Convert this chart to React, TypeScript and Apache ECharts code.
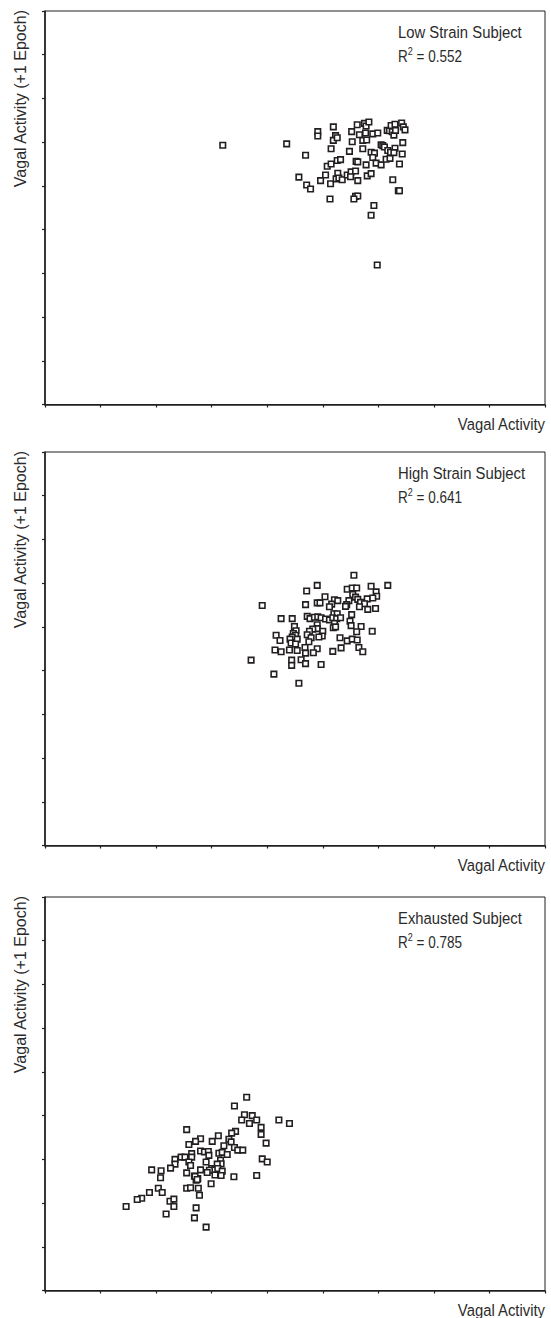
import React, { useEffect, useRef } from "react";
import * as echarts from "echarts";

const panelTitles = ["Low Strain Subject", "High Strain Subject", "Exhausted Subject"];
const rSquared = ["0.552", "0.641", "0.785"];
const xAxisTitle = "Vagal Activity";
const yAxisTitle = "Vagal Activity (+1 Epoch)";
const axisTicks = [0, 1, 2, 3, 4, 5, 6, 7, 8, 9];

const lowStrain: number[][] = [
  [4.35, 5.96], [4.69, 5.7], [4.57, 5.2], [4.71, 5.02], [4.78, 4.93], [4.91, 6.24], [4.91, 6.14],
  [5.19, 6.35], [5.23, 6.15], [5.19, 6.04], [5.26, 6.1], [5.15, 5.85], [5.05, 5.25], [5.08, 5.45],
  [5.15, 5.5], [4.96, 5.12], [5.14, 5.05], [5.27, 5.29], [5.26, 5.58], [5.32, 5.6], [5.24, 5.16],
  [5.29, 5.18], [5.35, 5.14], [5.44, 5.25], [5.51, 5.32], [5.59, 5.34], [5.5, 5.21], [5.63, 5.12],
  [5.13, 4.7], [5.52, 6.24], [5.62, 6.4], [5.53, 6.01], [5.48, 5.79], [5.6, 5.56], [5.63, 5.55],
  [5.75, 6.43], [5.78, 6.37], [5.83, 6.46], [5.66, 6.17], [5.77, 6.21], [5.72, 6.04], [5.79, 6.05],
  [5.72, 5.85], [5.78, 5.48], [5.8, 5.23], [5.87, 5.28], [5.59, 4.76], [5.63, 4.77], [5.56, 4.7],
  [5.92, 4.55], [5.9, 6.19], [5.99, 6.21], [5.87, 5.77], [5.93, 5.75], [5.9, 5.65], [5.96, 5.52],
  [6.05, 5.48], [6.05, 5.94], [6.08, 5.92], [6.11, 5.89], [6.14, 5.61], [6.17, 5.81], [6.21, 5.63],
  [6.22, 5.77], [6.3, 5.86], [6.16, 6.27], [6.2, 6.26], [6.23, 6.38], [6.3, 6.41], [6.25, 6.24],
  [6.28, 6.16], [6.31, 6.27], [6.42, 6.44], [6.45, 6.35], [6.48, 6.28], [6.44, 5.99], [6.43, 5.73],
  [6.38, 5.5], [6.26, 5.14], [6.36, 4.89], [6.38, 4.89], [6.28, 5.76], [3.2, 5.93], [5.98, 3.19],
  [5.87, 4.33],
];

const highStrain: number[][] = [
  [5.56, 6.18], [4.9, 5.95], [4.71, 5.82], [6.17, 5.95], [5.44, 5.86], [5.53, 5.89], [5.61, 5.89],
  [5.87, 5.93], [5.96, 5.8], [5.97, 5.7], [5.54, 5.74], [5.59, 5.68], [5.63, 5.63], [5.8, 5.64],
  [5.9, 5.66], [5.47, 5.6], [5.43, 5.51], [5.41, 5.47], [5.68, 5.56], [5.75, 5.53], [5.66, 5.46],
  [5.81, 5.4], [5.95, 5.42], [5.04, 5.69], [5.21, 5.62], [5.27, 5.6], [4.9, 5.55], [4.95, 5.55],
  [4.69, 5.51], [5.16, 5.52], [5.12, 5.46], [3.91, 5.49], [4.25, 5.19], [4.45, 5.19], [4.72, 5.24],
  [4.77, 5.19], [4.85, 5.22], [4.91, 5.23], [4.97, 5.21], [5.05, 5.18], [5.12, 5.16], [5.2, 5.3],
  [5.26, 5.3], [5.18, 5.21], [5.25, 5.19], [5.32, 5.21], [5.52, 5.28], [5.49, 5.13], [5.21, 5.08],
  [5.19, 4.98], [5.23, 5.0], [5.51, 5.03], [5.69, 5.01], [5.61, 4.89], [5.89, 4.9], [4.49, 5.01],
  [4.52, 4.91], [4.9, 5.05], [4.9, 4.96], [4.82, 4.95], [4.76, 4.9], [4.72, 4.82], [5.0, 4.9],
  [4.99, 4.79], [4.93, 4.77], [4.79, 4.75], [4.75, 4.66], [4.47, 4.85], [4.51, 4.81], [4.45, 4.77],
  [4.41, 4.72], [4.54, 4.72], [4.16, 4.81], [4.23, 4.69], [4.43, 4.63], [4.51, 4.61], [5.31, 4.75],
  [5.44, 4.68], [5.53, 4.72], [5.62, 4.7], [5.65, 4.53], [5.72, 4.43], [5.33, 4.52], [5.18, 4.44],
  [4.9, 4.5], [4.83, 4.41], [4.68, 4.53], [4.69, 4.4], [4.54, 4.46], [4.4, 4.47], [4.25, 4.43],
  [4.14, 4.47], [3.71, 4.24], [4.44, 4.24], [4.44, 4.12], [4.61, 4.25], [4.69, 4.16], [4.97, 4.14],
  [4.12, 3.92], [4.57, 3.71],
];

const exhausted: number[][] = [
  [3.63, 4.42], [3.41, 4.22], [3.59, 4.02], [3.73, 4.0], [3.54, 3.9], [3.68, 3.82], [3.81, 3.9],
  [4.21, 3.9], [4.4, 3.82], [3.89, 3.73], [3.89, 3.57], [3.98, 3.37], [2.55, 3.68], [3.43, 3.64],
  [3.36, 3.6], [3.12, 3.54], [2.8, 3.47], [2.71, 3.41], [2.59, 3.34], [3.01, 3.41], [3.31, 3.46],
  [3.35, 3.4], [3.22, 3.31], [3.41, 3.27], [3.47, 3.21], [3.56, 3.21], [2.8, 3.19], [2.87, 3.17],
  [2.94, 3.18], [2.95, 3.09], [3.13, 3.14], [3.19, 3.16], [3.28, 3.11], [2.64, 3.13], [2.64, 3.05],
  [2.45, 3.05], [2.52, 3.05], [2.34, 3.0], [2.34, 2.89], [2.26, 2.8], [1.92, 2.76], [2.09, 2.74],
  [2.08, 2.58], [2.59, 2.94], [2.62, 2.86], [2.9, 2.94], [3.16, 2.98], [3.17, 2.9], [3.1, 2.89],
  [3.91, 3.01], [4.0, 2.94], [2.55, 2.69], [2.8, 2.76], [3.0, 2.79], [3.05, 2.76], [3.11, 2.79],
  [2.96, 2.75], [2.92, 2.7], [3.06, 2.64], [3.19, 2.73], [3.17, 2.63], [2.69, 2.62], [2.75, 2.56],
  [2.72, 2.52], [3.4, 2.6], [3.81, 2.63], [2.99, 2.44], [2.55, 2.34], [2.62, 2.35], [2.76, 2.34],
  [2.78, 2.18], [2.04, 2.34], [2.11, 2.24], [1.88, 2.24], [1.74, 2.11], [1.66, 2.08], [1.46, 1.92],
  [2.25, 2.04], [2.32, 2.09], [2.32, 1.92], [2.72, 1.89], [2.18, 1.75], [2.69, 1.66], [2.9, 1.45],
  [2.7, 2.61], [2.74, 2.54],
];

const panelData = [lowStrain, highStrain, exhausted];

const INK = "#231f20";
const TEXT_INK = "#2b2b2b";
const FONT = "'Liberation Sans', Arial, sans-serif";
const GRID_TOPS = [11, 452, 897];
const GRID_LEFT = 45;
const GRID_W = 500;
const GRID_H = 393.5;

export default function App() {
  const ref = useRef<HTMLDivElement>(null);

  useEffect(() => {
    if (!ref.current) return;
    const chart = echarts.init(ref.current, undefined, { renderer: "svg" });

    const grids = GRID_TOPS.map((top) => ({
      left: GRID_LEFT,
      top,
      width: GRID_W,
      height: GRID_H,
      show: true,
      borderColor: INK,
      borderWidth: 1,
      backgroundColor: "transparent",
    }));

    const axisCommon = {
      type: "value" as const,
      min: axisTicks[0],
      max: axisTicks[axisTicks.length - 1],
      interval: 1,
      axisLine: { show: true, onZero: false, lineStyle: { color: INK, width: 1.6 } },
      axisTick: { show: true, inside: false, length: 3, lineStyle: { color: INK, width: 1.2 } },
      axisLabel: { show: false },
      splitLine: { show: false },
    };

    const xAxes = GRID_TOPS.map((_, i) => ({ ...axisCommon, gridIndex: i }));
    const yAxes = GRID_TOPS.map((_, i) => ({ ...axisCommon, gridIndex: i }));

    const series = panelData.map((d, i) => ({
      type: "scatter" as const,
      xAxisIndex: i,
      yAxisIndex: i,
      data: d,
      symbol: "rect",
      symbolSize: 5.5,
      itemStyle: { color: "#ffffff", borderColor: INK, borderWidth: 1.6, opacity: 1 },
    }));

    const graphics: any[] = [];
    GRID_TOPS.forEach((top, i) => {
      graphics.push({
        type: "text",
        x: 20,
        y: top - 1,
        rotation: Math.PI / 2,
        scaleX: 0.97,
        style: {
          text: yAxisTitle,
          fill: TEXT_INK,
          font: `16.5px ${FONT}`,
          align: "right",
          verticalAlign: "middle",
        },
      });
      graphics.push({
        type: "text",
        x: GRID_LEFT + GRID_W,
        y: top + GRID_H + 20,
        scaleX: 0.9,
        style: {
          text: xAxisTitle,
          fill: TEXT_INK,
          font: `16.5px ${FONT}`,
          align: "right",
          verticalAlign: "middle",
        },
      });
      graphics.push({
        type: "text",
        x: 398,
        y: top + 21,
        scaleX: 0.9,
        style: {
          text: panelTitles[i],
          fill: TEXT_INK,
          font: `16.5px ${FONT}`,
          align: "left",
          verticalAlign: "middle",
        },
      });
      graphics.push({
        type: "text",
        x: 398,
        y: top + 44,
        scaleX: 0.82,
        style: {
          text: `{n|R}{s|2}{n| = ${rSquared[i]}}`,
          fill: TEXT_INK,
          align: "left",
          verticalAlign: "middle",
          rich: {
            n: { fontSize: 16.5, fontFamily: FONT, fill: TEXT_INK, lineHeight: 19, verticalAlign: "bottom" },
            s: { fontSize: 11, fontFamily: FONT, fill: TEXT_INK, lineHeight: 19, verticalAlign: "top" },
          },
        },
      });
    });

    chart.setOption({
      animation: false,
      backgroundColor: "#ffffff",
      grid: grids,
      xAxis: xAxes,
      yAxis: yAxes,
      series,
      graphic: graphics,
    });

    return () => chart.dispose();
  }, []);

  return (
    <div
      ref={ref}
      style={{ position: "absolute", left: 0, top: 0, width: 551, height: 1318 }}
    />
  );
}
